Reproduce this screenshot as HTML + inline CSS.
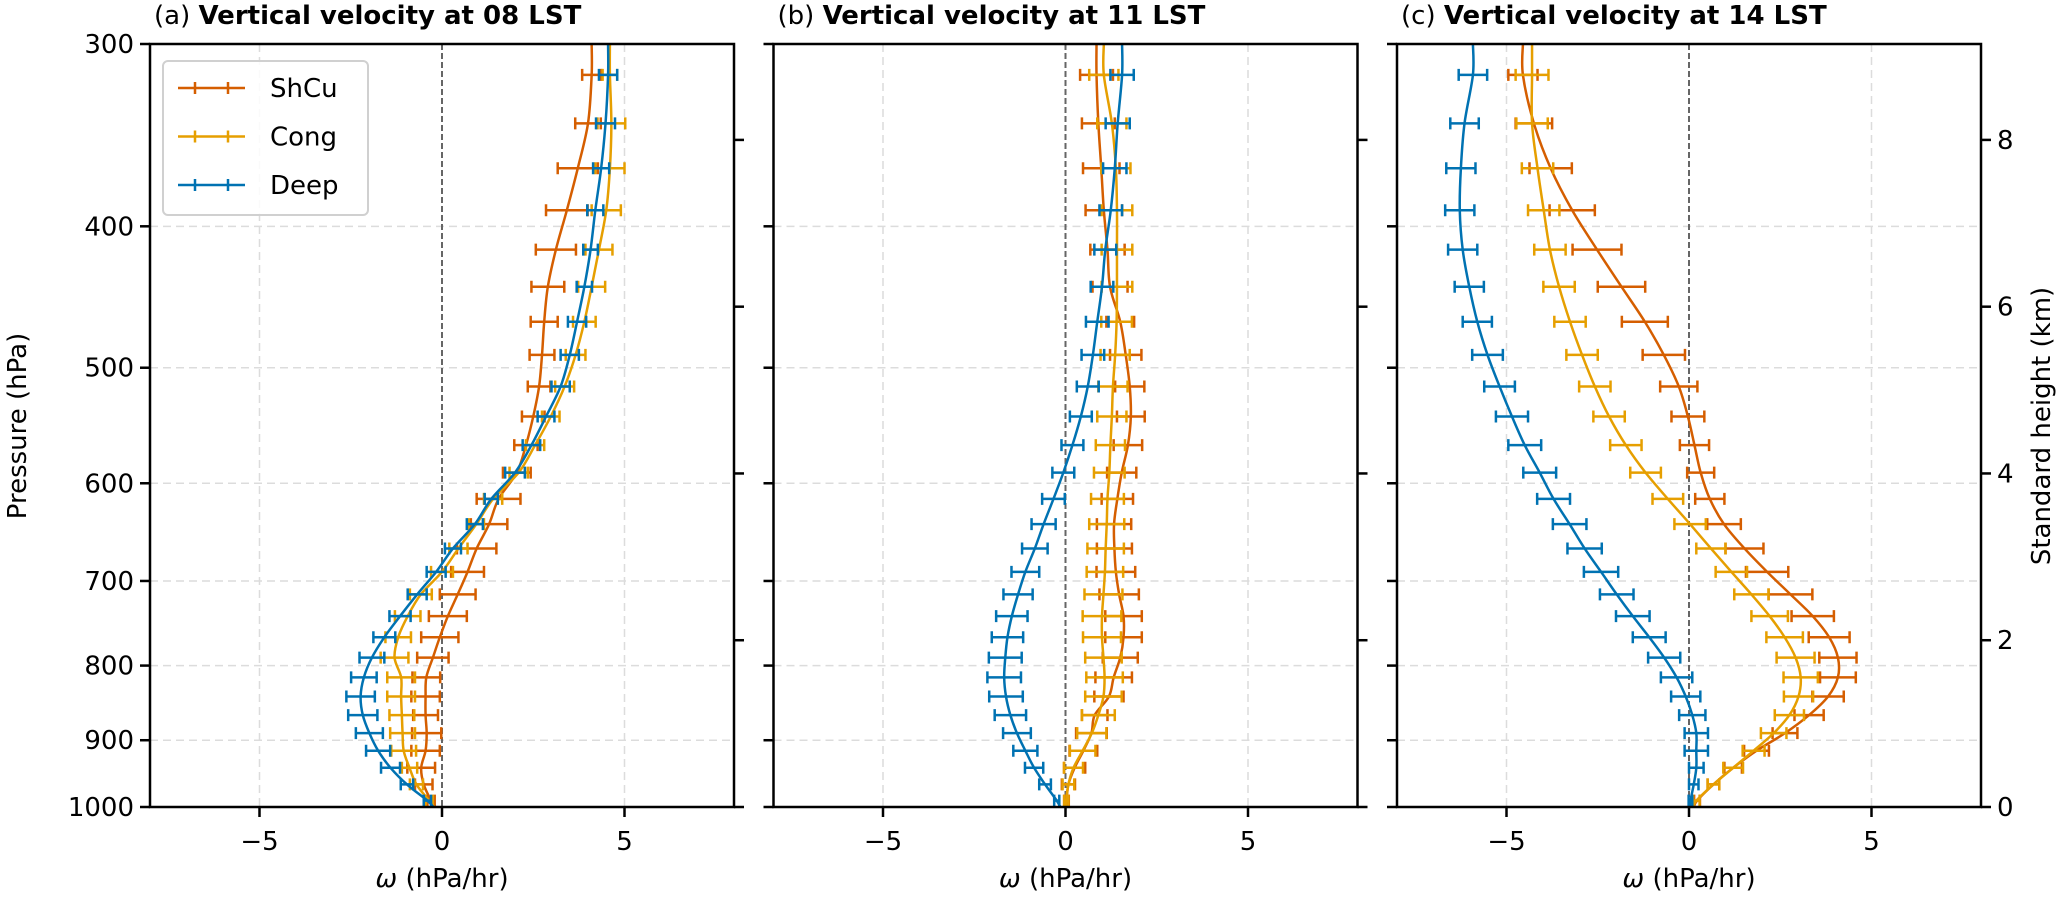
<!DOCTYPE html>
<html><head><meta charset="utf-8"><style>
html,body{margin:0;padding:0;background:#fff;}
svg{display:block;font-family:"DejaVu Sans","Liberation Sans",sans-serif;}
</style></head><body>
<svg id="chart" width="2067" height="904" viewBox="0 0 2067 904" xmlns="http://www.w3.org/2000/svg"></svg>
<script>
const levels=[315,340,365,390,415,440,465,490,515,540,565,590,615,640,665,690,715,740,765,790,815,840,865,890,915,940,965,990];
const panelTitles=["Vertical velocity at 08 LST","Vertical velocity at 11 LST","Vertical velocity at 14 LST"];
const panelLetters=["(a)","(b)","(c)"];
const seriesNames=["ShCu","Cong","Deep"];
const xTicks=[-5,0,5];
const pTicks=[300,400,500,600,700,800,900,1000];
const hTicks=[0,2,4,6,8];
// panel a
const aShCu=[4.1,4.0,3.72,3.42,3.12,2.9,2.8,2.74,2.66,2.5,2.3,2.05,1.55,1.29,0.95,0.7,0.43,0.16,-0.06,-0.25,-0.43,-0.45,-0.45,-0.42,-0.45,-0.57,-0.5,-0.3];
const aCong=[4.6,4.64,4.6,4.5,4.3,4.1,3.9,3.66,3.36,2.98,2.55,2.1,1.4,0.94,0.45,0.0,-0.58,-0.94,-1.2,-1.3,-1.12,-1.12,-1.1,-1.08,-1.05,-0.89,-0.7,-0.35];
const aDeep=[4.55,4.48,4.36,4.2,4.07,3.9,3.7,3.5,3.25,2.85,2.45,2.0,1.35,0.9,0.3,-0.16,-0.68,-1.15,-1.58,-1.92,-2.14,-2.23,-2.17,-1.99,-1.75,-1.41,-0.96,-0.4];
const aShCuErr=[.26,.35,.55,.57,.55,.45,.37,.34,.31,.31,.32,.38,.6,.5,.54,.45,.49,.52,.51,.43,.38,.39,.34,.4,.39,.38,.24,.1];
const aCongErr=[.2,.38,.4,.4,.37,.37,.31,.27,.26,.24,.25,.25,.25,.21,.25,.3,.3,.35,.35,.38,.38,.38,.34,.34,.34,.21,.18,.1];
const aDeepErr=[.25,.26,.22,.22,.2,.21,.25,.25,.25,.23,.24,.27,.18,.22,.22,.26,.26,.29,.3,.34,.35,.39,.4,.37,.33,.26,.17,.1];
// panel b
const bShCu=[0.85,0.9,0.98,1.05,1.15,1.22,1.5,1.65,1.76,1.79,1.71,1.54,1.42,1.33,1.34,1.38,1.47,1.59,1.59,1.5,1.32,1.19,0.8,0.71,0.49,0.25,0.08,0.03];
const bCong=[1.05,1.27,1.38,1.41,1.41,1.41,1.4,1.36,1.3,1.27,1.23,1.2,1.15,1.13,1.1,1.08,1.04,1.0,1.0,1.04,1.07,1.04,0.9,0.72,0.47,0.22,0.08,0.02];
const bDeep=[1.55,1.43,1.35,1.24,1.09,1.0,0.87,0.75,0.61,0.42,0.19,-0.06,-0.33,-0.6,-0.84,-1.1,-1.3,-1.47,-1.59,-1.65,-1.68,-1.63,-1.51,-1.33,-1.1,-0.86,-0.56,-0.24];
const bShCuErr=[.45,.45,.5,.5,.47,.48,.38,.43,.4,.38,.39,.4,.43,.47,.48,.53,.54,.5,.5,.48,.5,.4,.35,.42,.38,.29,.18,.06];
const bCongErr=[.4,.4,.4,.42,.42,.42,.42,.4,.4,.4,.4,.42,.45,.48,.5,.5,.52,.53,.52,.5,.5,.5,.45,.4,.35,.26,.16,.06];
const bDeepErr=[.32,.33,.32,.31,.3,.31,.31,.31,.3,.3,.3,.3,.31,.33,.35,.38,.4,.43,.43,.45,.46,.46,.43,.38,.33,.25,.16,.07];
// panel c
const cShCu=[-4.55,-4.25,-3.79,-3.2,-2.52,-1.85,-1.21,-0.69,-0.28,-0.03,0.15,0.32,0.57,0.96,1.52,2.14,2.78,3.39,3.84,4.08,4.08,3.81,3.29,2.63,1.85,1.21,0.67,0.22];
const cCong=[-4.3,-4.3,-4.15,-3.98,-3.81,-3.56,-3.26,-2.93,-2.58,-2.19,-1.73,-1.19,-0.58,0.03,0.6,1.16,1.71,2.21,2.62,2.92,3.06,3.0,2.75,2.32,1.77,1.21,0.67,0.2];
const cDeep=[-5.92,-6.15,-6.25,-6.28,-6.2,-6.02,-5.8,-5.52,-5.19,-4.85,-4.5,-4.09,-3.71,-3.27,-2.86,-2.41,-1.98,-1.54,-1.09,-0.68,-0.34,-0.09,0.09,0.2,0.2,0.2,0.13,0.04];
const cShCuErr=[.4,.5,.58,.62,.67,.65,.63,.58,.51,.45,.4,.37,.4,.46,.52,.58,.6,.58,.56,.51,.49,.43,.4,.34,.34,.24,.16,.08];
const cCongErr=[.45,.43,.43,.43,.43,.43,.43,.43,.43,.43,.43,.42,.42,.43,.4,.43,.47,.5,.5,.52,.47,.4,.4,.35,.3,.27,.16,.09];
const cDeepErr=[.39,.39,.4,.4,.4,.4,.4,.42,.42,.44,.45,.45,.45,.46,.47,.47,.46,.46,.45,.44,.43,.4,.36,.32,.32,.2,.13,.05];

const colors=["#d55e00","#e69f00","#0072b2"];
const panels=[
 {vals:[aShCu,aCong,aDeep],errs:[aShCuErr,aCongErr,aDeepErr]},
 {vals:[bShCu,bCong,bDeep],errs:[bShCuErr,bCongErr,bDeepErr]},
 {vals:[cShCu,cCong,cDeep],errs:[cShCuErr,cCongErr,cDeepErr]}
];
const NS="http://www.w3.org/2000/svg";
const svg=document.getElementById('chart');
const panelLeft=[150,773.5,1397], PW=584, TOP=44, BOT=807, XMIN=-8, XMAX=8, H=7.6;
function yP(p){return TOP+(BOT-TOP)*Math.log(p/300)/Math.log(1000/300);}
function yH(z){return yP(1000*Math.exp(-z/H));}
function mk(tag,attrs,parent){const e=document.createElementNS(NS,tag);for(const k in attrs)e.setAttribute(k,attrs[k]);(parent||svg).appendChild(e);return e;}
function smoothPath(pts){
 let d="M"+pts[0][0].toFixed(2)+","+pts[0][1].toFixed(2);
 for(let i=0;i<pts.length-1;i++){
  const p0=pts[Math.max(0,i-1)],p1=pts[i],p2=pts[i+1],p3=pts[Math.min(pts.length-1,i+2)];
  const c1=[p1[0]+(p2[0]-p0[0])/6,p1[1]+(p2[1]-p0[1])/6];
  const c2=[p2[0]-(p3[0]-p1[0])/6,p2[1]-(p3[1]-p1[1])/6];
  d+=" C"+c1[0].toFixed(2)+","+c1[1].toFixed(2)+" "+c2[0].toFixed(2)+","+c2[1].toFixed(2)+" "+p2[0].toFixed(2)+","+p2[1].toFixed(2);
 }
 return d;
}
const FS=26;
panels.forEach((pn,pi)=>{
 const L=panelLeft[pi];
 const xS=v=>L+(v-XMIN)/(XMAX-XMIN)*PW;
 const g=mk('g',{});
 
 
 // grid
 xTicks.forEach(t=>{if(t!==0){const l=mk('line',{x1:xS(t),x2:xS(t),y1:TOP,y2:BOT,stroke:'#dcdcdc','stroke-width':1.5,'stroke-dasharray':'8,5'},g);
  }});
 pTicks.forEach(p=>{if(p!==300&&p!==1000){const l=mk('line',{x1:L,x2:L+PW,y1:yP(p),y2:yP(p),stroke:'#dcdcdc','stroke-width':1.5,'stroke-dasharray':'8,5'},g);
  }});
 const z=mk('line',{x1:xS(0),x2:xS(0),y1:TOP,y2:BOT,stroke:'#666','stroke-width':2,'stroke-dasharray':'6,3'},g);
 
 // series
 pn.vals.forEach((vals,si)=>{
  const col=colors[si];
  const sg=mk('g',{},g);
  
  
  const pts=[[xS(vals[0]),yP(300)]];
  levels.forEach((p,i)=>pts.push([xS(vals[i]),yP(p)]));
  pts.push([xS(vals[vals.length-1]*0.6),yP(1000)]);
  const ln=mk('path',{d:smoothPath(pts),fill:'none',stroke:col,'stroke-width':2.5},sg);
  
  levels.forEach((p,i)=>{
   const y=yP(p),x1=xS(vals[i]-pn.errs[si][i]),x2=xS(vals[i]+pn.errs[si][i]);
   const eb=mk('path',{d:`M${x1},${y}H${x2}M${x1},${y-6}V${y+6}M${x2},${y-6}V${y+6}`,stroke:col,'stroke-width':2.5,fill:'none'},sg);
   
  });
 });
 // spines
 const fr=mk('rect',{x:L,y:TOP,width:PW,height:BOT-TOP,fill:'none',stroke:'#000','stroke-width':2.5},g);
 
 // x ticks
 xTicks.forEach(t=>{
  mk('line',{x1:xS(t),x2:xS(t),y1:BOT,y2:BOT+10,stroke:'#000','stroke-width':2.5},g);
  const tx=mk('text',{x:xS(t),y:BOT+43,'text-anchor':'middle','font-size':FS},g);
  tx.textContent=t<0?'\u2212'+Math.abs(t):String(t);
  
 });
 const xl=mk('text',{x:L+PW/2,y:887,'text-anchor':'middle','font-size':FS},g);
 xl.innerHTML='<tspan font-style="italic">ω</tspan> (hPa/hr)';
 
 // y ticks left
 pTicks.forEach(p=>{
  mk('line',{x1:L-10,x2:L,y1:yP(p),y2:yP(p),stroke:'#000','stroke-width':2.5},g);
  if(pi===0){const t=mk('text',{x:L-16,y:yP(p)+9,'text-anchor':'end','font-size':FS},g);t.textContent=p;
   }
 });
 // height ticks right
 hTicks.forEach(h=>{
  mk('line',{x1:L+PW,x2:L+PW+10,y1:yH(h),y2:yH(h),stroke:'#000','stroke-width':2.5},g);
  if(pi===2){const t=mk('text',{x:L+PW+16,y:yH(h)+9,'font-size':FS},g);t.textContent=h;
   }
 });
 const tt=mk('text',{x:L+4,y:24,'font-size':FS},g);
 tt.innerHTML=panelLetters[pi]+' <tspan font-weight="bold">'+panelTitles[pi]+'</tspan>';
 
});
const yl=mk('text',{x:0,y:0,'text-anchor':'middle','font-size':FS,transform:'translate(26,426) rotate(-90)'});
yl.textContent='Pressure (hPa)';

const yr=mk('text',{x:0,y:0,'text-anchor':'middle','font-size':FS,transform:'translate(2050,426) rotate(-90)'});
yr.textContent='Standard height (km)';

// legend
const lg=mk('g',{});

mk('rect',{x:163,y:61,width:205,height:154,rx:5,fill:'#fff','fill-opacity':0.85,stroke:'#d0d0d0','stroke-width':2},lg);
seriesNames.forEach((n,i)=>{
 const y=88+i*48.5;
 const e=mk('g',{},lg);
 
 mk('path',{d:`M178,${y}H245M195,${y-6}V${y+6}M228,${y-6}V${y+6}`,stroke:colors[i],'stroke-width':2.5,fill:'none'},e);
 const t=mk('text',{x:270,y:y+9,'font-size':FS},e);t.textContent=n;
});
</script>
</body></html>
